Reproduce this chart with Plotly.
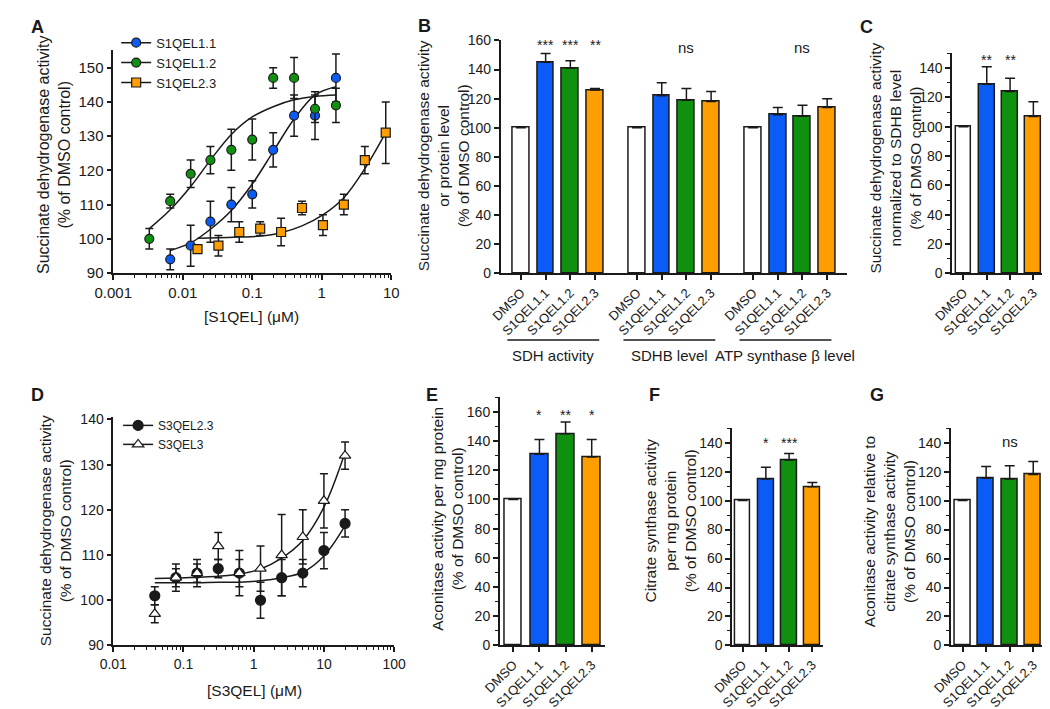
import plotly.graph_objects as go

W, H = 1050, 709
FONT = "Liberation Sans, Arial, sans-serif"
INK = "#1a1a1a"
BLUE = "#0b5cf6"
GREEN = "#10900f"
ORANGE = "#ff9e00"

# ---------------- panel A : S1QEL dose response ----------------
a_x_11 = [0.0066, 0.013, 0.025, 0.05, 0.1, 0.2, 0.4, 0.8, 1.6]
a_y_11 = [94, 98, 105, 110, 113, 126, 136, 136, 147]
a_e_11 = [3, 6, 6, 5, 4, 5, 6, 7, 7]
a_x_12 = [0.0033, 0.0066, 0.013, 0.025, 0.05, 0.1, 0.2, 0.4, 0.8, 1.6]
a_y_12 = [100, 111, 119, 123, 126, 129, 147, 147, 138, 139]
a_e_12 = [3, 2, 4, 4, 6, 6, 3, 6, 4, 5]
a_x_23 = [0.0163, 0.0326, 0.065, 0.13, 0.26, 0.52, 1.04, 2.08, 4.17, 8.33]
a_y_23 = [97, 98, 102, 103, 102, 109, 104, 110, 123, 131]
a_e_23 = [1, 3, 3, 2, 4, 2, 3, 3, 4, 9]
# fitted curves at the same concentrations
fit_y_11 = [96.6, 98.8, 102.8, 108.3, 116, 125.5, 135, 142, 144.4]
fit_y_12 = [103, 108.5, 115.3, 123, 130.5, 135.6, 138.6, 140.6, 141.6, 142]
fit_y_23 = [100.2, 100.3, 100.5, 100.8, 101.8, 103.8, 107, 112, 120.5, 131]
a_names = ["S1QEL1.1", "S1QEL1.2", "S1QEL2.3"]

# ---------------- panel D : S3QEL dose response ----------------
d_x = [0.039, 0.078, 0.156, 0.3125, 0.625, 1.25, 2.5, 5, 10, 20]
d_y_23 = [101, 105, 106, 107, 106, 100, 105, 106, 111, 117]
d_e_23 = [2, 3, 3, 2, 3, 4, 4, 3, 4, 3]
d_y_3 = [97, 105, 106, 112, 106, 107, 110, 114, 122, 132]
d_e_3 = [2, 2, 2, 3, 5, 5, 9, 6, 6, 3]
fit_d_23 = [103.9, 103.9, 103.9, 104, 104, 104.3, 105, 106.2, 109.8, 116.5]
fit_d_3 = [104.8, 104.9, 105.1, 105.3, 105.8, 106.9, 109.3, 113.2, 120.6, 132.7]
d_names = ["S3QEL2.3", "S3QEL3"]

# ---------------- bar panels ----------------
bar_labels = ["DMSO", "S1QEL1.1", "S1QEL1.2", "S1QEL2.3"]
bar_colors = ["white", BLUE, GREEN, ORANGE]

b_groups = ["SDH activity", "SDHB level", "ATP synthase \u03b2 level"]
b_vals = [[100, 145, 141, 126], [100, 122, 119, 118], [100, 109, 108, 114]]
b_errs = [[0, 6, 5, 1], [0, 9, 8, 7], [0, 5, 7.5, 6]]
b_marks = [["", "***", "***", "**"], ["", "", "ns", ""], ["", "", "ns", ""]]

c_vals = [100, 129, 124, 107]
c_errs = [0, 12, 9, 10]
c_marks = ["", "**", "**", ""]

e_vals = [100, 131, 145, 129]
e_errs = [0, 10, 8, 12]
e_marks = ["", "*", "**", "*"]

f_vals = [100, 115, 128, 109.5]
f_errs = [0, 8, 4.5, 3]
f_marks = ["", "*", "***", ""]

g_vals = [100, 115.5, 115, 118]
g_errs = [0, 8, 9, 9]
g_marks = ["", "", "ns", ""]


def dom_x(left, right):
    return [left / W, right / W]


def dom_y(top, bottom):
    return [1 - bottom / H, 1 - top / H]


def py(y):
    return 1 - y / H


def px(x):
    return x / W


def axis_style(size):
    return dict(showline=True, linecolor=INK, linewidth=1.5, ticks="outside",
                ticklen=5, tickwidth=1.5, tickcolor=INK, showgrid=False,
                zeroline=False, fixedrange=True,
                tickfont=dict(family=FONT, size=size, color=INK))


minor_y = dict(ticks="outside", ticklen=3, tickwidth=1.2, tickcolor=INK, dtick=10, showgrid=False)
log_minor = dict(ticks="outside", ticklen=3, tickwidth=1.2, tickcolor=INK, showgrid=False)

fig = go.Figure()
annotations = []
shapes = []


def text(x, y, t, size, xref="paper", angle=0):
    annotations.append(dict(x=x, y=py(y), xref=xref, yref="paper", text=t, textangle=angle,
                            showarrow=False, xanchor="center", yanchor="middle",
                            font=dict(family=FONT, size=size, color=INK)))


def dose_panel(ax, ay, xs, ys, es, fits, colors, symbols, names, legend, msize):
    for x, fy in zip(xs, fits):
        fig.add_trace(go.Scatter(x=x, y=fy, mode="lines", xaxis=ax, yaxis=ay,
                                 line=dict(color=INK, width=1.5, shape="spline"),
                                 showlegend=False, hoverinfo="skip"))
    for x, y, e, col, sym, name in zip(xs, ys, es, colors, symbols, names):
        mk = dict(color=col, size=msize, symbol=sym, line=dict(color=INK, width=1.2))
        fig.add_trace(go.Scatter(x=x, y=y, mode="markers", xaxis=ax, yaxis=ay, marker=mk,
                                 error_y=dict(type="data", array=e, color=INK, thickness=1.5, width=4),
                                 cliponaxis=False, showlegend=False))
        fig.add_trace(go.Scatter(x=[None], y=[None], mode="lines+markers", name=name,
                                 xaxis=ax, yaxis=ay, marker=mk, legend=legend,
                                 line=dict(color=INK, width=1.5)))


dose_panel("x", "y", [a_x_11, a_x_12, a_x_23], [a_y_11, a_y_12, a_y_23],
           [a_e_11, a_e_12, a_e_23], [fit_y_11, fit_y_12, fit_y_23],
           [BLUE, GREEN, ORANGE], ["circle", "circle", "square"], a_names, "legend", 9)
dose_panel("x4", "y4", [d_x, d_x], [d_y_23, d_y_3], [d_e_23, d_e_3], [fit_d_23, fit_d_3],
           [INK, "white"], ["circle", "triangle-up"], d_names, "legend2", 10)


def bar_panel(n, pos, vals, errs, colors, marks, mark_y):
    fig.add_trace(go.Bar(x=pos, y=vals, width=0.68, xaxis=f"x{n}", yaxis=f"y{n}",
                         marker=dict(color=colors, line=dict(color=INK, width=1.5)),
                         error_y=dict(type="data", symmetric=False, array=errs,
                                      arrayminus=[0] * len(errs), color=INK,
                                      thickness=1.5, width=5),
                         cliponaxis=False, showlegend=False))
    for p, m in zip(pos, marks):
        if m.startswith("*"):
            text(p, mark_y + 3, m, 14, xref=f"x{n}")
        elif m:
            text(p, mark_y, m, 15, xref=f"x{n}")


# B positions: 3 groups of 4 bars with a gap between groups
gap = 0.7
b_pos, b_vals_flat, b_errs_flat, b_cols, b_marks_flat = [], [], [], [], []
for g in range(len(b_groups)):
    for i in range(len(bar_labels)):
        b_pos.append(g * (len(bar_labels) + gap) + i)
    b_vals_flat += b_vals[g]
    b_errs_flat += b_errs[g]
    b_cols += bar_colors
    b_marks_flat += b_marks[g]

bar_panel(2, b_pos, b_vals_flat, b_errs_flat, b_cols,
          [m if m.startswith("*") else "" for m in b_marks_flat], 27)
for p, m in zip(b_pos, b_marks_flat):
    if m == "ns":
        text(p, 32, m, 15, xref="x2")

small_pos = list(range(len(bar_labels)))
bar_panel(3, small_pos, c_vals, c_errs, bar_colors, c_marks, 41.7)
bar_panel(5, small_pos, e_vals, e_errs, bar_colors, e_marks, 405)
bar_panel(6, small_pos, f_vals, f_errs, bar_colors, f_marks, 434)
bar_panel(7, small_pos, g_vals, g_errs, bar_colors, g_marks, 435)

# group brackets under B
for g, name in enumerate(b_groups):
    x0 = b_pos[g * 4] - 0.55
    x1 = b_pos[g * 4 + 3] + 0.17
    shapes.append(dict(type="line", xref="x2", yref="paper", x0=x0, x1=x1,
                       y0=py(331.5), y1=py(331.5), line=dict(color=INK, width=1.5)))
    text((x0 + x1) / 2, 347, name, 15, xref="x2")

# axis titles
ytitles = [
    (26, 142, 16, "Succinate dehydrogenase activity<br>(% of DMSO control)"),
    (428, 143, 15.5, "Succinate dehydrogenase activity<br>or protein level<br>(% of DMSO control)"),
    (895, 145, 15.5, "Succinate dehydrogenase activity<br>normalized to SDHB level<br>(% of DMSO control)"),
    (27, 527, 15.5, "Succinate dehydrogenase activity<br>(% of DMSO control)"),
    (432, 514, 15.5, "Aconitase activity per mg protein<br>(% of DMSO control)"),
    (662, 516, 15.5, "Citrate synthase activity<br>per mg protein<br>(% of DMSO control)"),
    (888, 528, 15.5, "Aconitase activity relative to<br>citrate synthase activity<br>(% of DMSO control)"),
]
for x, y, s, t in ytitles:
    text(px(x), y, t, s, angle=-90)
text(px(230), 307, "[S1QEL] (\u03bcM)", 15.5)
text(px(233), 690, "[S3QEL] (\u03bcM)", 15.5)

# panel letters
for x, y, t in [(9, 11, "A"), (408, 10, "B"), (865, 11, "C"), (9, 388, "D"),
                (416, 388, "E"), (646, 388, "F"), (876, 388, "G")]:
    text(px(x), y, f"<b>{t}</b>", 18)

a_ticks = [0.001, 0.01, 0.1, 1, 10]
d_ticks = [0.01, 0.1, 1, 10, 100]
a_minor = [m * 10 ** k for k in range(-3, 1) for m in range(2, 10)]
d_minor = [m * 10 ** k for k in range(-2, 2) for m in range(2, 10)]


def bar_x(dom, n, rng, pos, labels):
    st = axis_style(13)
    return dict(domain=dom, anchor=f"y{n}", range=rng, tickvals=pos, ticktext=labels,
                tickangle=-45, **st)


def bar_y(dom, n, top, ticks, minor=True):
    d = dict(domain=dom, anchor=f"x{n}", range=[0, top], tickvals=ticks, **axis_style(14))
    if minor:
        d["minor"] = minor_y
    return d


fig.update_layout(
    width=W, height=H, margin=dict(l=0, r=0, t=0, b=0),
    paper_bgcolor="white", plot_bgcolor="white",
    font=dict(family=FONT, color=INK),
    bargap=0,
    xaxis=dict(domain=dom_x(87, 374), anchor="y", type="log", range=[-3, 1],
               tickvals=a_ticks, ticktext=["0.001", "0.01", "0.1", "1", "10"],
               minor=dict(tickvals=a_minor, **log_minor), **axis_style(15)),
    yaxis=dict(domain=dom_y(35, 263), anchor="x", range=[90, 155.1],
               tickvals=list(range(90, 151, 10)), **axis_style(15)),
    xaxis2=bar_x(dom_x(487, 845), 2, [-0.82, b_pos[-1] + 0.82], b_pos, bar_labels * 3),
    yaxis2=bar_y(dom_y(25, 263.3), 2, 160, list(range(0, 161, 20)), minor=False),
    xaxis3=bar_x(dom_x(953, 1049), 3, [-0.49, 3.5], small_pos, bar_labels),
    yaxis3=bar_y(dom_y(38.3, 263.3), 3, 150, list(range(0, 141, 20))),
    xaxis4=dict(domain=dom_x(87, 377), anchor="y4", type="log", range=[-2, 2],
                tickvals=d_ticks, ticktext=["0.01", "0.1", "1", "10", "100"],
                minor=dict(tickvals=d_minor, **log_minor), **axis_style(14)),
    yaxis4=dict(domain=dom_y(410, 644), anchor="x4", range=[90, 140.6],
                tickvals=list(range(90, 141, 10)), **axis_style(14)),
    xaxis5=bar_x(dom_x(486, 595), 5, [-0.52, 3.52], small_pos, bar_labels),
    yaxis5=bar_y(dom_y(390, 644), 5, 170, list(range(0, 161, 20))),
    xaxis6=bar_x(dom_x(726, 820), 6, [-0.45, 3.47], small_pos, bar_labels),
    yaxis6=bar_y(dom_y(421.7, 644), 6, 150, list(range(0, 141, 20))),
    xaxis7=bar_x(dom_x(951.7, 1049), 7, [-0.5, 3.5], small_pos, bar_labels),
    yaxis7=bar_y(dom_y(421.7, 644), 7, 150, list(range(0, 141, 20))),
    legend=dict(x=px(90), y=py(12), xanchor="left", yanchor="top", bgcolor="rgba(0,0,0,0)",
                font=dict(family=FONT, size=13, color=INK), tracegroupgap=0),
    legend2=dict(x=px(92), y=py(404), xanchor="left", yanchor="top", bgcolor="rgba(0,0,0,0)",
                 font=dict(family=FONT, size=12, color=INK), tracegroupgap=0),
    annotations=annotations, shapes=shapes,
)

fig.write_html("out.html")
